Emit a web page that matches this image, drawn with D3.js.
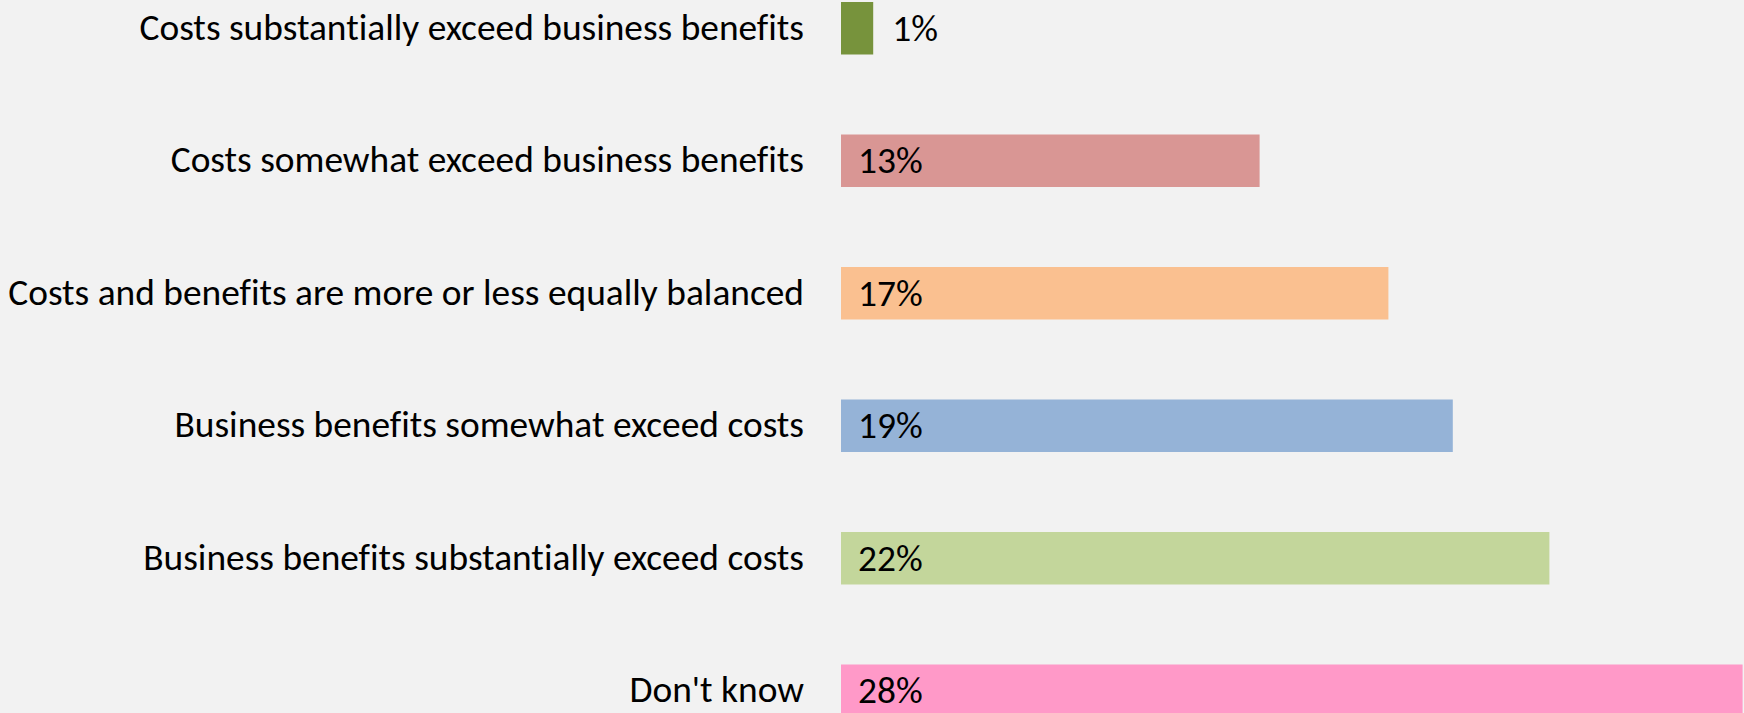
<!DOCTYPE html>
<html>
<head>
<meta charset="utf-8">
<script src="https://cdn.jsdelivr.net/npm/d3@7"></script>
<style>
  html, body { margin: 0; padding: 0; background: #F2F2F2; }
  svg { display: block; }
  text { font-family: "Carlito", "Lato", "Open Sans", sans-serif; fill: #000; font-variant-ligatures: none; }
</style>
</head>
<body>
<svg id="chart" width="1744" height="713"></svg>
<script>
// Survey answers, top to bottom
const categories = [
  "Costs substantially exceed business benefits",
  "Costs somewhat exceed business benefits",
  "Costs and benefits are more or less equally balanced",
  "Business benefits somewhat exceed costs",
  "Business benefits substantially exceed costs",
  "Don't know"
];
const values = [1, 13, 17, 19, 22, 28];
const colors = ["#77933C", "#D99694", "#FAC090", "#95B3D7", "#C3D69B", "#FF99C8"];

const width = 1744, height = 713;
const svg = d3.select("#chart");

svg.append("rect").attr("width", width).attr("height", height).attr("fill", "#F2F2F2");

const x = d3.scaleLinear().domain([0, 28]).range([841, 1742.6]);
const y = d3.scaleBand().domain(categories).range([2, 717]).paddingInner(0.6038).paddingOuter(0);

const fontSize = 37.4;

// bars
svg.append("g").selectAll("rect")
  .data(categories)
  .join("rect")
  .attr("x", x(0))
  .attr("y", d => y(d))
  .attr("width", (d, i) => x(values[i]) - x(0))
  .attr("height", y.bandwidth())
  .attr("fill", (d, i) => colors[i]);

// category labels, right-aligned before the bars
svg.append("g").selectAll("text")
  .data(categories)
  .join("text")
  .attr("x", 804)
  .attr("y", d => y(d) + y.bandwidth() / 2)
  .attr("dy", "0.31em")
  .attr("text-anchor", "end")
  .style("font-size", fontSize + "px")
  .text(d => d);

// value labels: inside the bar when it fits, otherwise just past its end
svg.append("g").selectAll("text")
  .data(categories)
  .join("text")
  .attr("x", (d, i) => (x(values[i]) - x(0) > 80) ? x(0) + 17 : x(values[i]) + 19)
  .attr("y", d => y(d) + y.bandwidth() / 2)
  .attr("dy", "0.33em")
  .style("font-size", fontSize + "px")
  .text((d, i) => values[i] + "%");
</script>
</body>
</html>
